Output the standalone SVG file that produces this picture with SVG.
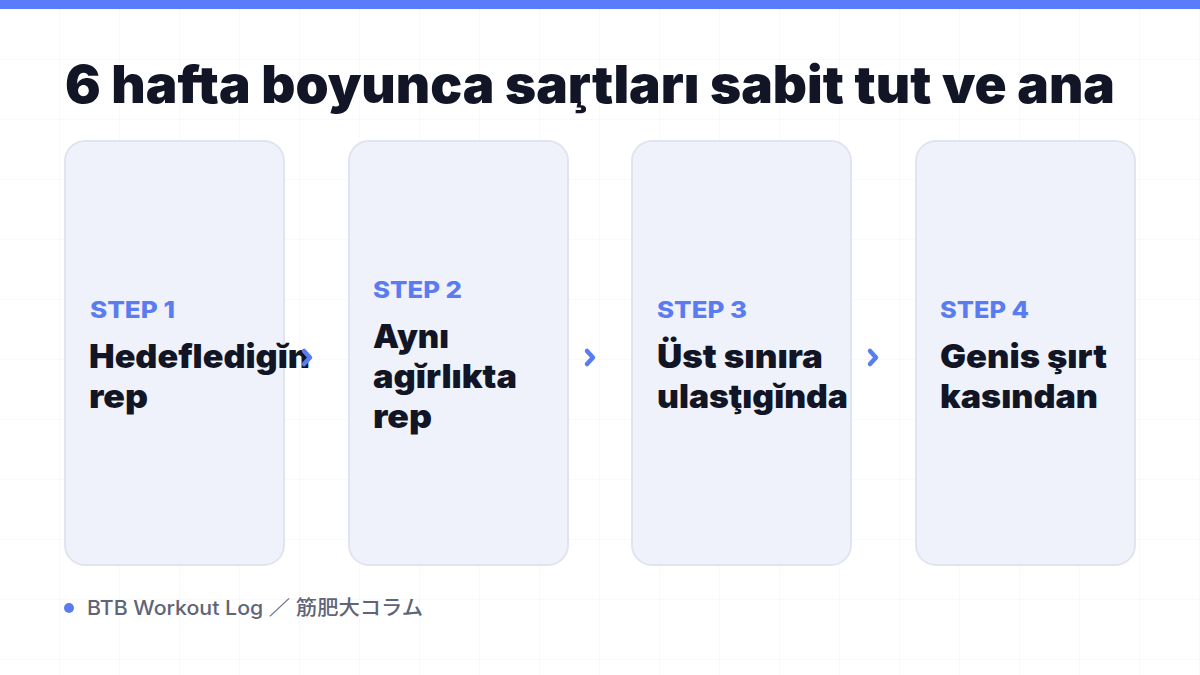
<svg xmlns="http://www.w3.org/2000/svg" width="1200" height="675" viewBox="0 0 1200 675">
<defs>
<pattern id="grid" width="60" height="60" patternUnits="userSpaceOnUse">
<path d="M60 0V60M0 60H60" fill="none" stroke="#f1f2f6" stroke-width="1"/>
</pattern>
</defs>
<style>
.card{fill:#f0f2fb;stroke:#e1e4ef;stroke-width:2}
.step{font-family:Inter,"Liberation Sans",sans-serif;font-weight:800;font-size:23px;fill:#5b7cf0}
.body{font-family:Inter,"Liberation Sans",sans-serif;font-weight:900;font-size:33px;fill:#111526}
.title{font-family:Inter,"Liberation Sans",sans-serif;font-weight:900;font-size:52px;fill:#111526}
.foot{font-family:Inter,"Noto Sans CJK JP",sans-serif;font-weight:500;font-size:20px;fill:#5f6577}
.chev{fill:none;stroke:#5b7cf0;stroke-width:4.5;stroke-linecap:round;stroke-linejoin:round}
</style>
<rect width="1200" height="675" fill="#ffffff"/>
<rect width="1200" height="675" fill="url(#grid)"/>
<rect width="1200" height="9" fill="#5b7cfa"/>
<text class="title" x="65" y="103" textLength="1050" lengthAdjust="spacingAndGlyphs">6 hafta boyunca sa̧rtları sabit tut ve ana</text>
<g id="node1">
<rect class="card" x="65" y="141" width="219" height="424" rx="20"/>
<text class="step" x="90" y="318" textLength="85" lengthAdjust="spacingAndGlyphs">STEP 1</text>
<text class="body" x="89" y="368" textLength="221" lengthAdjust="spacingAndGlyphs">Hedefledigĭn</text>
<text class="body" x="89" y="408" textLength="59" lengthAdjust="spacingAndGlyphs">rep</text>
</g>
<g id="node2">
<rect class="card" x="349" y="141" width="219" height="424" rx="20"/>
<text class="step" x="373" y="298" textLength="89" lengthAdjust="spacingAndGlyphs">STEP 2</text>
<text class="body" x="373" y="348" textLength="76" lengthAdjust="spacingAndGlyphs">Aynı</text>
<text class="body" x="373" y="388" textLength="144" lengthAdjust="spacingAndGlyphs">agı̆rlıkta</text>
<text class="body" x="373" y="428" textLength="59" lengthAdjust="spacingAndGlyphs">rep</text>
</g>
<g id="node3">
<rect class="card" x="632" y="141" width="219" height="424" rx="20"/>
<text class="step" x="657" y="318" textLength="90" lengthAdjust="spacingAndGlyphs">STEP 3</text>
<text class="body" x="657" y="368" textLength="166" lengthAdjust="spacingAndGlyphs">Üst sınıra</text>
<text class="body" x="657" y="408" textLength="191" lengthAdjust="spacingAndGlyphs">ulasţıgı̆nda</text>
</g>
<g id="node4">
<rect class="card" x="916" y="141" width="219" height="424" rx="20"/>
<text class="step" x="940" y="318" textLength="89" lengthAdjust="spacingAndGlyphs">STEP 4</text>
<text class="body" x="940" y="368" textLength="167" lengthAdjust="spacingAndGlyphs">Genis şırt</text>
<text class="body" x="940" y="408" textLength="158" lengthAdjust="spacingAndGlyphs">kasından</text>
</g>
<g id="connectors">
<path class="chev" d="M304 351L310 357.5L304 364"/>
<path class="chev" d="M587 351L593 357.5L587 364"/>
<path class="chev" d="M870 351L876 357.5L870 364"/>
</g>
<g id="footer">
<circle cx="69" cy="608" r="5" fill="#5b7cf0"/>
<text class="foot" x="87" y="615" textLength="336" lengthAdjust="spacingAndGlyphs">BTB Workout Log ／ 筋肥大コラム</text>
</g>
</svg>
